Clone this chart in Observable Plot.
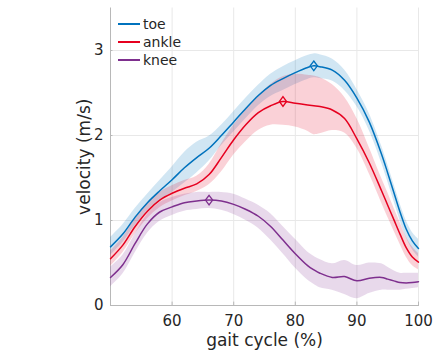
<!DOCTYPE html>
<html>
<head>
<meta charset="utf-8">
<script src="https://cdn.jsdelivr.net/npm/d3@7"></script>
<script src="https://cdn.jsdelivr.net/npm/@observablehq/plot@0.6"></script>
<style>
  html, body { margin: 0; padding: 0; background: #fff; }
  #wrap { position: relative; width: 438px; height: 352px; font-family: "DejaVu Sans", sans-serif; }
  #legend { position: absolute; left: 118px; top: 15px; font-size: 14px; color: #262626; line-height: 18px; }
  #legend .row { display: flex; align-items: center; height: 18px; }
  #legend .sw { display: inline-block; width: 22px; height: 1.6px; margin-right: 3px; }
</style>
</head>
<body>
<div id="wrap"><div id="legend"></div></div>
<script>
const gait = [50,52,54,56,58,60,62,64,66,68,70,72,74,76,78,80,82,83,84,86,88,90,92,94,95,96,97,98,99,100];

const toeMean = [0.69,0.84,1.04,1.21,1.35,1.48,1.62,1.74,1.85,2.00,2.16,2.32,2.47,2.59,2.67,2.74,2.80,2.82,2.81,2.77,2.65,2.44,2.16,1.78,1.56,1.33,1.10,0.90,0.76,0.67];
const toeLo   = [0.59,0.74,0.94,1.11,1.23,1.33,1.44,1.56,1.70,1.88,2.04,2.20,2.35,2.46,2.53,2.60,2.66,2.68,2.67,2.64,2.53,2.34,2.06,1.68,1.46,1.23,1.00,0.80,0.66,0.57];
const toeHi   = [0.80,0.95,1.14,1.31,1.47,1.63,1.80,1.92,1.99,2.12,2.28,2.44,2.59,2.72,2.81,2.88,2.94,2.96,2.95,2.90,2.77,2.54,2.26,1.88,1.66,1.43,1.20,1.00,0.86,0.78];

const ankleMean = [0.55,0.71,0.93,1.11,1.24,1.32,1.38,1.43,1.54,1.74,1.95,2.13,2.27,2.35,2.40,2.38,2.36,2.35,2.34,2.30,2.20,1.96,1.68,1.35,1.18,1.01,0.84,0.68,0.57,0.51];
const ankleLo   = [0.46,0.62,0.84,1.02,1.15,1.23,1.29,1.34,1.42,1.57,1.77,1.93,2.06,2.12,2.12,2.10,2.05,2.01,2.02,2.06,2.03,1.85,1.55,1.21,1.04,0.88,0.72,0.57,0.47,0.42];
const ankleHi   = [0.64,0.80,1.02,1.20,1.33,1.41,1.47,1.52,1.66,1.90,2.12,2.30,2.46,2.60,2.69,2.72,2.71,2.70,2.68,2.60,2.45,2.20,1.86,1.50,1.33,1.15,0.98,0.81,0.69,0.61];

const kneeMean = [0.33,0.48,0.73,0.96,1.10,1.16,1.21,1.23,1.24,1.23,1.19,1.13,1.05,0.93,0.77,0.61,0.47,0.42,0.38,0.33,0.34,0.29,0.32,0.33,0.31,0.29,0.27,0.265,0.27,0.28];
const kneeLo   = [0.22,0.37,0.62,0.85,0.99,1.06,1.11,1.13,1.14,1.12,1.07,1.00,0.91,0.77,0.61,0.44,0.30,0.25,0.21,0.18,0.13,0.08,0.14,0.18,0.18,0.18,0.18,0.19,0.20,0.21];
const kneeHi   = [0.45,0.59,0.84,1.07,1.21,1.27,1.31,1.33,1.33,1.33,1.31,1.25,1.18,1.08,0.93,0.78,0.63,0.58,0.54,0.49,0.53,0.47,0.50,0.49,0.45,0.41,0.38,0.38,0.38,0.38];

const seriesNames = ["toe", "ankle", "knee"];
const seriesColors = ["#0072BD", "#E6001F", "#7E2F8E"];
const xTicks = [60, 70, 80, 90, 100];
const yTicks = [0, 1, 2, 3];
const xLabel = "gait cycle (%)";
const yLabel = "velocity (m/s)";

const stats = [
  {mean: toeMean, lo: toeLo, hi: toeHi},
  {mean: ankleMean, lo: ankleLo, hi: ankleHi},
  {mean: kneeMean, lo: kneeLo, hi: kneeHi}
];

const rows = [];
stats.forEach((s, k) => gait.forEach((x, i) => rows.push({series: seriesNames[k], x, y: s.mean[i], lo: s.lo[i], hi: s.hi[i]})));
const peaks = seriesNames.map((name) => {
  const r = rows.filter(d => d.series === name);
  return r[d3.maxIndex(r, d => d.y)];
});

const diamond = {
  draw(ctx, size) {
    const r = Math.sqrt(size / Math.PI);
    ctx.moveTo(0, -r * 1.2);
    ctx.lineTo(r * 0.9, 0);
    ctx.lineTo(0, r * 1.2);
    ctx.lineTo(-r * 0.9, 0);
    ctx.closePath();
  }
};

const curve = "catmull-rom";
const axisGray = "#b8b8b8";
const marks = [
  Plot.gridX(xTicks, {stroke: "#e8e8e8", strokeOpacity: 1}),
  Plot.gridY(yTicks.filter(v => v > 0), {stroke: "#e8e8e8", strokeOpacity: 1}),
  Plot.frame({anchor: "left", stroke: axisGray}),
  Plot.frame({anchor: "bottom", stroke: axisGray}),
];
seriesNames.forEach((name, k) => {
  marks.push(Plot.areaY(rows.filter(d => d.series === name), {x: "x", y1: "lo", y2: "hi", fill: seriesColors[k], fillOpacity: 0.18, curve}));
});
seriesNames.forEach((name, k) => {
  marks.push(Plot.lineY(rows.filter(d => d.series === name), {x: "x", y: "y", stroke: seriesColors[k], strokeWidth: 1.5, curve}));
});
peaks.forEach((p, k) => {
  marks.push(Plot.dot([p], {x: "x", y: "y", r: 4, symbol: diamond, stroke: seriesColors[k], strokeWidth: 1.3, fill: "none"}));
});
marks.push(
  Plot.axisX({ticks: xTicks, tickSize: 0, tickPadding: 10, fontSize: 15, label: null, color: "#262626"}),
  Plot.axisY({ticks: yTicks, tickSize: 0, tickPadding: 7, fontSize: 15, label: null, tickFormat: "d", color: "#262626"}),
  Plot.ruleX(xTicks, {x: d => d, y1: 0, y2: 0.04, stroke: axisGray}),
  Plot.ruleY(yTicks, {y: d => d, x1: 50, x2: 50.4, stroke: axisGray}),
  Plot.text([xLabel], {frameAnchor: "bottom", lineAnchor: "middle", dy: 35, fontSize: 17, fill: "#262626"}),
  Plot.text([yLabel], {frameAnchor: "left", textAnchor: "middle", lineAnchor: "middle", dx: -26, rotate: -90, fontSize: 17, fill: "#262626"})
);

const chart = Plot.plot({
  width: 438,
  height: 352,
  marginLeft: 110,
  marginRight: 20,
  marginTop: 7.5,
  marginBottom: 47,
  x: {domain: [50, 100]},
  y: {domain: [0, 3.5]},
  style: {fontFamily: "DejaVu Sans, sans-serif", background: "white", overflow: "visible"},
  marks
});
document.getElementById("wrap").prepend(chart);

const legend = document.getElementById("legend");
seriesNames.forEach((name, k) => {
  const row = document.createElement("div");
  row.className = "row";
  const sw = document.createElement("span");
  sw.className = "sw";
  sw.style.background = seriesColors[k];
  const t = document.createElement("span");
  t.textContent = name;
  row.append(sw, t);
  legend.append(row);
});
</script>
</body>
</html>
